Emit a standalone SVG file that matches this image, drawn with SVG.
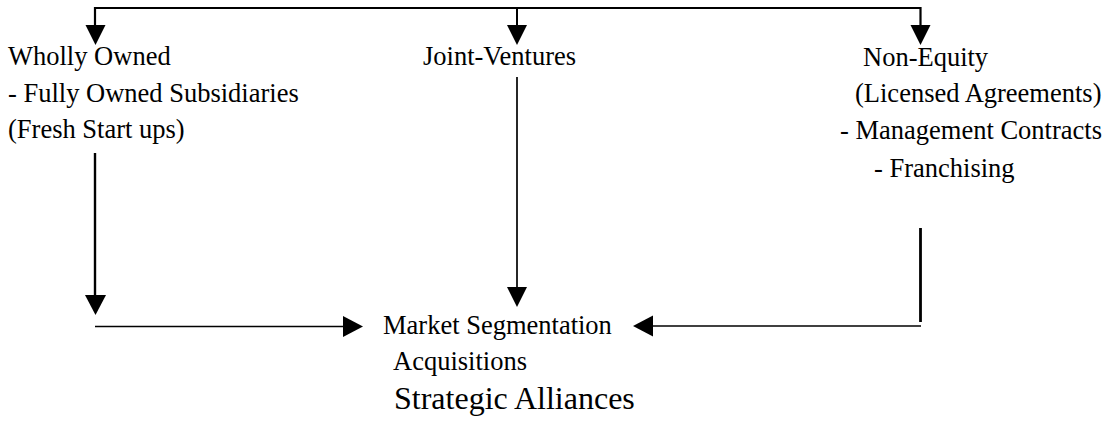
<svg xmlns="http://www.w3.org/2000/svg" width="1109" height="421" viewBox="0 0 1109 421">
<style>
  text { font-family: "Liberation Serif", "Times New Roman", serif; font-size: 26.5px; fill: #000; }
  .big { font-size: 32px; }
  .ln { stroke: #000; fill: none; }
  .ah { fill: #000; stroke: none; }
</style>
<rect width="1109" height="421" fill="#fff"/>
<g id="connectors">
  <polyline class="ln" stroke-width="2.2" points="95,26 95,8 920.5,8 920.5,26"/>
  <line class="ln" stroke-width="2" x1="517" y1="8" x2="517" y2="26"/>
  <polygon class="ah" points="85.5,25 105.5,25 95.5,45"/>
  <polygon class="ah" points="507,25 527,25 517,45"/>
  <polygon class="ah" points="910.5,25 930.5,25 920.5,45"/>
  <line class="ln" stroke-width="2.4" x1="95" y1="153" x2="95" y2="297"/>
  <polygon class="ah" points="85,295 106,295 95.5,315"/>
  <line class="ln" stroke-width="1.7" x1="95" y1="326.5" x2="345" y2="326.5"/>
  <polygon class="ah" points="343,316 363,326.5 343,337"/>
  <line class="ln" stroke-width="1.7" x1="517" y1="77" x2="517" y2="289"/>
  <polygon class="ah" points="507,287 527,287 517,307"/>
  <line class="ln" stroke-width="2.8" x1="920.5" y1="228" x2="920.5" y2="322"/>
  <line class="ln" stroke-width="1.7" x1="651" y1="326" x2="921" y2="326"/>
  <polygon class="ah" points="653,315.5 653,336.5 633,326"/>
</g>
<g id="wholly-owned">
  <text x="8" y="65">Wholly Owned</text>
  <text x="8" y="102">- Fully Owned Subsidiaries</text>
  <text x="8" y="138">(Fresh Start ups)</text>
</g>
<g id="joint-ventures">
  <text x="423" y="65">Joint-Ventures</text>
</g>
<g id="non-equity">
  <text x="863" y="66">Non-Equity</text>
  <text x="855" y="102">(Licensed Agreements)</text>
  <text x="840" y="139">- Management Contracts</text>
  <text x="874" y="177">- Franchising</text>
</g>
<g id="strategic-alliances">
  <text x="383" y="334">Market Segmentation</text>
  <text x="393" y="370">Acquisitions</text>
  <text class="big" x="394" y="409">Strategic Alliances</text>
</g>
</svg>
